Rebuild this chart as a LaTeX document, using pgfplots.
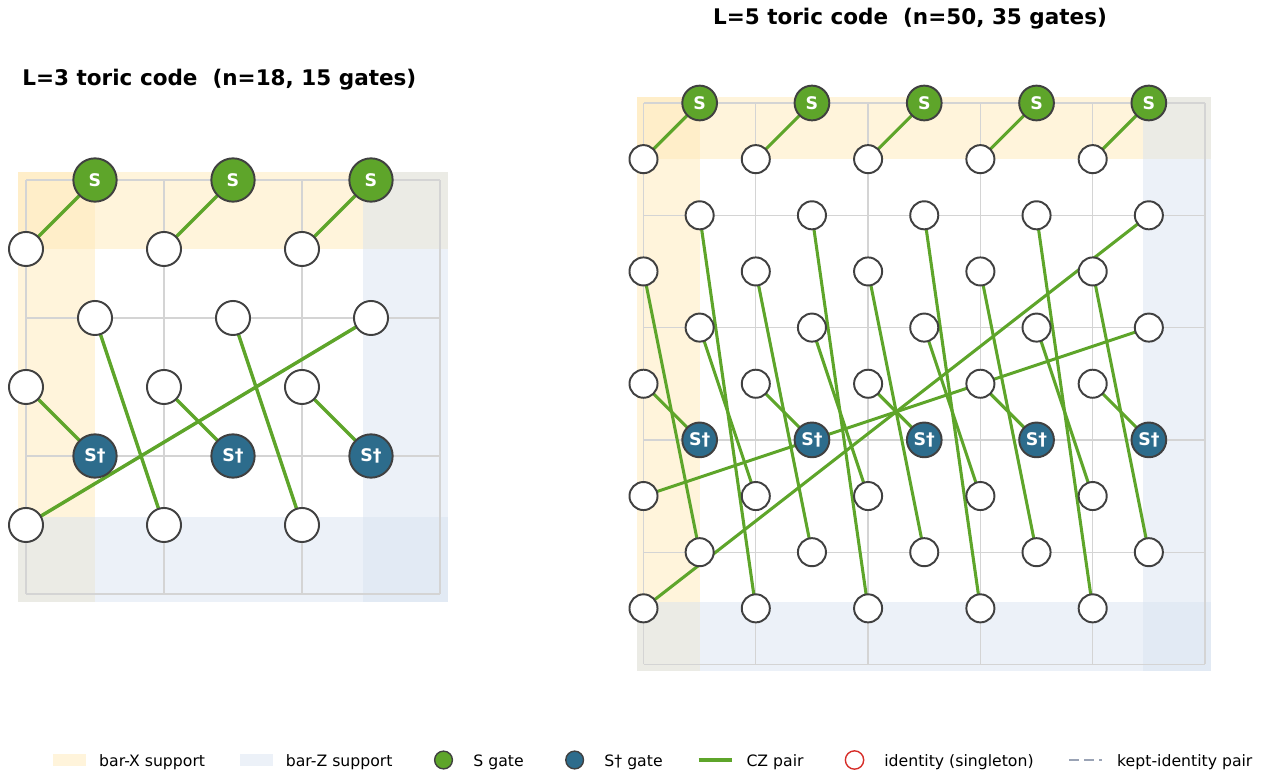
\documentclass[border=0pt]{standalone}
\usepackage{fontspec}
\setmainfont{DejaVu Sans}
\usepackage{pgfplots}
\pgfplotsset{compat=1.18}
\definecolor{yband}{RGB}{255,233,183}
\definecolor{zband}{RGB}{217,227,241}
\definecolor{gridc}{RGB}{212,212,212}
\definecolor{sgreen}{RGB}{94,165,42}
\definecolor{sdblue}{RGB}{45,108,140}
\definecolor{edgec}{RGB}{64,64,64}
\definecolor{idred}{RGB}{214,45,40}
\definecolor{keptc}{RGB}{154,163,181}
\newcommand\titfont{\fontsize{15.5}{18}\selectfont\bfseries}
\newcommand\legfont{\fontsize{11.3}{13.5}\selectfont}
\newcommand\labfont{\fontsize{12.5}{14}\selectfont\bfseries}
\pgfplotsset{
  panel/.style={scale only axis, hide axis, clip=false, enlargelimits=false,
    title style={font=\titfont, anchor=base, inner sep=0pt}},
  yb/.style={draw=none, fill=yband, fill opacity=0.5, forget plot},
  zb/.style={draw=none, fill=zband, fill opacity=0.5, forget plot},
  gl/.style={gridc, line width=0.9pt, forget plot},
  cz/.style={sgreen, line width=#1, forget plot},
  wnode/.style={only marks, mark=*, mark size=#1, forget plot,
    mark options={fill=white, draw=edgec, line width=1.4pt}},
  gnode/.style 2 args={only marks, mark=*, mark size=#1, forget plot,
    mark options={fill=#2, draw=edgec, line width=1.4pt},
    nodes near coords align={center},
    every node near coord/.append style={font=\labfont, text=white, anchor=center, inner sep=0pt}},
}
\begin{document}
\begin{tikzpicture}
\useasboundingbox (0,0) rectangle (924.48pt,556.56pt);
% ---------------- L = 3 ----------------
\begin{axis}[panel, at={(18.72pt,128.88pt)}, anchor=south west,
  width=298.08pt, height=298.08pt, xmin=0, xmax=3, ymin=0, ymax=3,
  title={L=3 toric code\ \ (n=18, 15 gates)},
  title style={at={(axis description cs:0.4671,1.2090)}}]
\addplot[yb] coordinates {(-0.055,-0.055) (0.5,-0.055) (0.5,3.055) (-0.055,3.055)};
\addplot[yb] coordinates {(-0.055,2.5) (3.055,2.5) (3.055,3.055) (-0.055,3.055)};
\addplot[zb] coordinates {(2.445,-0.055) (3.055,-0.055) (3.055,3.055) (2.445,3.055)};
\addplot[zb] coordinates {(-0.055,-0.055) (3.055,-0.055) (3.055,0.555) (-0.055,0.555)};
\pgfplotsinvokeforeach{0,1,2,3}{
  \addplot[gl] coordinates {(#1,0) (#1,3)};
  \addplot[gl] coordinates {(0,#1) (3,#1)};
}
\addplot[cz=2.5pt] coordinates {(0,2.5) (0.5,3)};
\addplot[cz=2.5pt] coordinates {(1,2.5) (1.5,3)};
\addplot[cz=2.5pt] coordinates {(2,2.5) (2.5,3)};
\addplot[cz=2.5pt] coordinates {(0,1.5) (0.5,1)};
\addplot[cz=2.5pt] coordinates {(1,1.5) (1.5,1)};
\addplot[cz=2.5pt] coordinates {(2,1.5) (2.5,1)};
\addplot[cz=2.5pt] coordinates {(0.5,2) (1,0.5)};
\addplot[cz=2.5pt] coordinates {(1.5,2) (2,0.5)};
\addplot[cz=2.5pt] coordinates {(2.5,2) (0,0.5)};
\addplot[wnode=12.26pt] coordinates {
  (0,2.5) (1,2.5) (2,2.5) (0,1.5) (1,1.5) (2,1.5) (0,0.5) (1,0.5) (2,0.5)
  (0.5,2) (1.5,2) (2.5,2)};
\addplot[gnode={15.6pt}{sgreen}, nodes near coords={S}] coordinates {(0.5,3) (1.5,3) (2.5,3)};
\addplot[gnode={15.6pt}{sdblue}, nodes near coords={S†}] coordinates {(0.5,1) (1.5,1) (2.5,1)};
\end{axis}
% ---------------- L = 5 ----------------
\begin{axis}[panel, at={(463.32pt,78.12pt)}, anchor=south west,
  width=404.28pt, height=404.28pt, xmin=0, xmax=5, ymin=0, ymax=5,
  title={L=5 toric code\ \ (n=50, 35 gates)},
  title style={at={(axis description cs:0.4746,1.1246)}}]
\addplot[yb] coordinates {(-0.055,-0.055) (0.5,-0.055) (0.5,5.055) (-0.055,5.055)};
\addplot[yb] coordinates {(-0.055,4.5) (5.055,4.5) (5.055,5.055) (-0.055,5.055)};
\addplot[zb] coordinates {(4.445,-0.055) (5.055,-0.055) (5.055,5.055) (4.445,5.055)};
\addplot[zb] coordinates {(-0.055,-0.055) (5.055,-0.055) (5.055,0.555) (-0.055,0.555)};
\pgfplotsinvokeforeach{0,1,2,3,4,5}{
  \addplot[gl] coordinates {(#1,0) (#1,5)};
  \addplot[gl] coordinates {(0,#1) (5,#1)};
}
% S pairs
\addplot[cz=2.2pt] coordinates {(0,4.5) (0.5,5)};
\addplot[cz=2.2pt] coordinates {(1,4.5) (1.5,5)};
\addplot[cz=2.2pt] coordinates {(2,4.5) (2.5,5)};
\addplot[cz=2.2pt] coordinates {(3,4.5) (3.5,5)};
\addplot[cz=2.2pt] coordinates {(4,4.5) (4.5,5)};
% S-dagger pairs
\addplot[cz=2.2pt] coordinates {(0,2.5) (0.5,2)};
\addplot[cz=2.2pt] coordinates {(1,2.5) (1.5,2)};
\addplot[cz=2.2pt] coordinates {(2,2.5) (2.5,2)};
\addplot[cz=2.2pt] coordinates {(3,2.5) (3.5,2)};
\addplot[cz=2.2pt] coordinates {(4,2.5) (4.5,2)};
% CZ pairs
\addplot[cz=2.2pt] coordinates {(0,3.5) (0.5,1)};
\addplot[cz=2.2pt] coordinates {(1,3.5) (1.5,1)};
\addplot[cz=2.2pt] coordinates {(2,3.5) (2.5,1)};
\addplot[cz=2.2pt] coordinates {(3,3.5) (3.5,1)};
\addplot[cz=2.2pt] coordinates {(4,3.5) (4.5,1)};
\addplot[cz=2.2pt] coordinates {(0.5,4) (1,0.5)};
\addplot[cz=2.2pt] coordinates {(1.5,4) (2,0.5)};
\addplot[cz=2.2pt] coordinates {(2.5,4) (3,0.5)};
\addplot[cz=2.2pt] coordinates {(3.5,4) (4,0.5)};
\addplot[cz=2.2pt] coordinates {(4.5,4) (0,0.5)};
\addplot[cz=2.2pt] coordinates {(0.5,3) (1,1.5)};
\addplot[cz=2.2pt] coordinates {(1.5,3) (2,1.5)};
\addplot[cz=2.2pt] coordinates {(2.5,3) (3,1.5)};
\addplot[cz=2.2pt] coordinates {(3.5,3) (4,1.5)};
\addplot[cz=2.2pt] coordinates {(4.5,3) (0,1.5)};
\addplot[wnode=10.1pt] coordinates {
  (0,4.5) (1,4.5) (2,4.5) (3,4.5) (4,4.5)
  (0,3.5) (1,3.5) (2,3.5) (3,3.5) (4,3.5)
  (0,2.5) (1,2.5) (2,2.5) (3,2.5) (4,2.5)
  (0,1.5) (1,1.5) (2,1.5) (3,1.5) (4,1.5)
  (0,0.5) (1,0.5) (2,0.5) (3,0.5) (4,0.5)
  (0.5,4) (1.5,4) (2.5,4) (3.5,4) (4.5,4)
  (0.5,3) (1.5,3) (2.5,3) (3.5,3) (4.5,3)
  (0.5,1) (1.5,1) (2.5,1) (3.5,1) (4.5,1)};
\addplot[gnode={12.5pt}{sgreen}, nodes near coords={S}] coordinates {(0.5,5) (1.5,5) (2.5,5) (3.5,5) (4.5,5)};
\addplot[gnode={12.5pt}{sdblue}, nodes near coords={S†}] coordinates {(0.5,2) (1.5,2) (2.5,2) (3.5,2) (4.5,2)};
\end{axis}
% ---------------- legend ----------------
\begin{axis}[at={(0pt,0pt)}, anchor=south west, scale only axis,
  width=924.48pt, height=556.56pt, hide axis, xmin=0, xmax=1, ymin=0, ymax=1,
  legend columns=7,
  legend style={at={(0.5083,0.0168)}, anchor=center, draw=none, fill=none,
    inner sep=0pt, outer sep=0pt, font=\legfont,
    nodes={inner sep=0pt, anchor=base west},
    /tikz/every odd column/.append style={column sep=9.6pt},
    /tikz/every even column/.append style={column sep=24.8pt}}]
\addlegendimage{legend image code/.code={
  \path[draw=none, fill=none] (0pt,-2pt) rectangle (23.76pt,10pt);
  \fill[draw=none, fill=yband, fill opacity=0.5] (0pt,0.4pt) rectangle (23.76pt,8.5pt);}}
\addlegendentry{bar-X support}
\addlegendimage{legend image code/.code={
  \path[draw=none, fill=none] (0pt,-2pt) rectangle (23.76pt,10pt);
  \fill[draw=none, fill=zband, fill opacity=0.5] (0pt,0.4pt) rectangle (23.76pt,8.5pt);}}
\addlegendentry{bar-Z support}
\addlegendimage{legend image code/.code={
  \path[draw=none, fill=none] (0pt,-2pt) rectangle (23.76pt,10pt);
  \draw[fill=sgreen, draw=edgec, line width=1pt] (11.88pt,4.4pt) circle (6.4pt);}}
\addlegendentry{S gate}
\addlegendimage{legend image code/.code={
  \path[draw=none, fill=none] (0pt,-2pt) rectangle (23.76pt,10pt);
  \draw[fill=sdblue, draw=edgec, line width=1pt] (11.88pt,4.4pt) circle (6.4pt);}}
\addlegendentry{S† gate}
\addlegendimage{legend image code/.code={
  \path[draw=none, fill=none] (0pt,-2pt) rectangle (23.76pt,10pt);
  \draw[sgreen, line width=2.2pt] (0pt,4.4pt) -- (23.76pt,4.4pt);}}
\addlegendentry{CZ pair}
\addlegendimage{legend image code/.code={
  \path[draw=none, fill=none] (0pt,-2pt) rectangle (23.76pt,10pt);
  \draw[draw=idred, fill=none, line width=1pt] (11.88pt,4.4pt) circle (6.6pt);}}
\addlegendentry{identity (singleton)}
\addlegendimage{legend image code/.code={
  \path[draw=none, fill=none] (0pt,-2pt) rectangle (23.76pt,10pt);
  \draw[keptc, line width=2pt, dash pattern=on 7.2pt off 3.6pt] (0pt,4.4pt) -- (23.76pt,4.4pt);}}
\addlegendentry{kept-identity pair}
\end{axis}
\end{tikzpicture}
\end{document}
